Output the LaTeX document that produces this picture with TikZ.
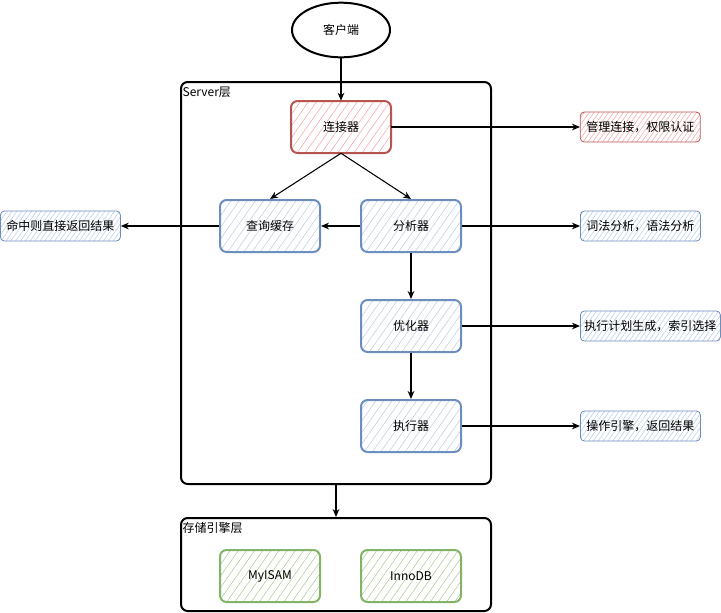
\documentclass[tikz,border=0pt]{standalone}
\usepackage{fontspec}
\setmainfont{Noto Sans CJK SC}
\usetikzlibrary{arrows.meta,patterns.meta,shapes.geometric}
\definecolor{bstroke}{HTML}{6C8EBF}
\definecolor{bfill}{HTML}{B8CCEA}
\definecolor{rstroke}{HTML}{B85450}
\definecolor{rfill}{HTML}{F0A8A6}
\definecolor{gstroke}{HTML}{82B366}
\definecolor{gfill}{HTML}{A9CC97}
\tikzset{
  every node/.style={font=\fontsize{9}{11}\selectfont},
  bigbox/.style={draw=bstroke, line width=1.5pt, rounded corners=5pt, minimum width=75pt, minimum height=39pt,
    pattern={Lines[angle=55,distance=5pt,line width=0.4pt]}, pattern color=bfill},
  redbox/.style={bigbox, draw=rstroke, pattern color=rfill},
  greenbox/.style={bigbox, draw=gstroke, pattern color=gfill},
  notebox/.style={draw=bstroke, line width=0.6pt, rounded corners=3pt, minimum height=22.5pt, inner xsep=1pt,
    pattern={Lines[angle=55,distance=3pt,line width=0.4pt]}, pattern color=bfill},
  rednote/.style={notebox, draw=rstroke, pattern color=rfill},
  layer/.style={draw=black, line width=1.5pt, rounded corners=5pt},
  arr/.style={-{Stealth[length=6pt,width=5pt]}, line width=0.8pt},
}
\begin{document}
\begin{tikzpicture}[x=0.75pt,y=-0.75pt]
\useasboundingbox (0,0) rectangle (721,612);
% layers
\node[layer, minimum width=232.5pt, minimum height=301.5pt, anchor=north west] (server) at (180,81) {};
\node[anchor=north west, inner sep=1pt] (serverlbl) at (181,85) {Server层};
\node[layer, minimum width=232.5pt, minimum height=69.75pt, anchor=north west] (storage) at (180,517) {};
\node[anchor=north west, inner sep=1pt] (storagelbl) at (181,521) {存储引擎层};
% client
\node[draw, ellipse, line width=1.5pt, minimum width=73.5pt, minimum height=41pt] (client) at (341,30) {客户端};
% components
\node[redbox] (conn) at (341,127) {连接器};
\node[bigbox] (cache) at (270,226) {查询缓存};
\node[bigbox] (parser) at (411,226) {分析器};
\node[bigbox] (opt) at (411,326) {优化器};
\node[bigbox] (exec) at (411,426) {执行器};
\node[greenbox] (myisam) at (270,576) {MyISAM};
\node[greenbox] (innodb) at (411,576) {InnoDB};
% notes
\node[rednote, minimum width=90pt, anchor=west] (n1) at (580,127) {管理连接，权限认证};
\node[notebox, minimum width=90pt, anchor=west] (n2) at (0,226) {命中则直接返回结果};
\node[notebox, minimum width=90pt, anchor=west] (n3) at (580,226) {词法分析，语法分析};
\node[notebox, minimum width=105pt, anchor=west] (n4) at (580,326) {执行计划生成，索引选择};
\node[notebox, minimum width=90pt, anchor=west] (n5) at (580,426) {操作引擎，返回结果};
% connectors
\draw[arr] (client) -- (conn);
\draw[arr] (conn.south) -- (cache.north);
\draw[arr] (conn.south) -- (parser.north);
\draw[arr] (parser) -- (cache);
\draw[arr] (cache) -- (n2);
\draw[arr] (parser) -- (opt);
\draw[arr] (opt) -- (exec);
\draw[arr] (conn) -- (n1);
\draw[arr] (parser) -- (n3);
\draw[arr] (opt) -- (n4);
\draw[arr] (exec) -- (n5);
\draw[arr] (server.south -| 336,0) -- (storage.north -| 336,0);
\end{tikzpicture}
\end{document}
